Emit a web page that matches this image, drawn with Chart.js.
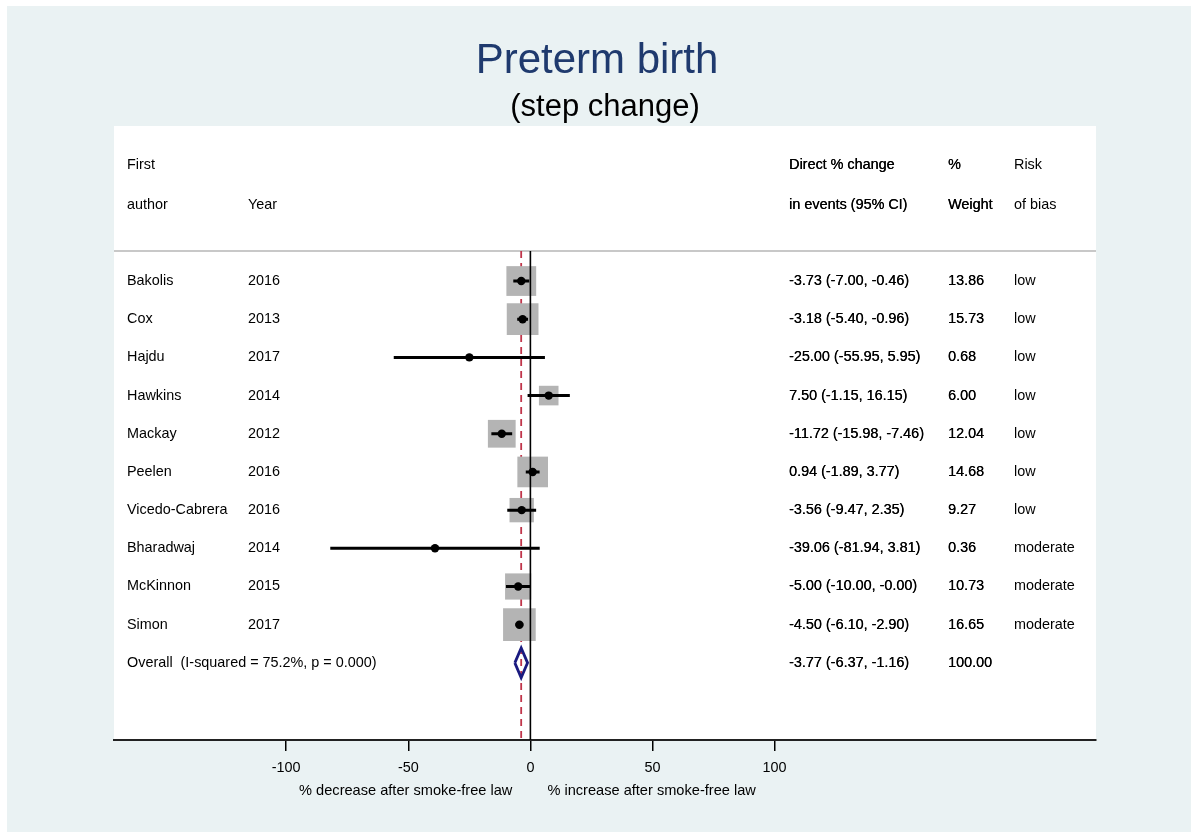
<!DOCTYPE html>
<html>
<head>
<meta charset="utf-8">
<title>Preterm birth (step change)</title>
<script src="https://cdn.jsdelivr.net/npm/chart.js@4.4.1/dist/chart.umd.min.js"></script>
<style>
  html, body { margin: 0; padding: 0; background: #ffffff; }
  #wrap { width: 1191px; height: 832px; position: relative; }
  canvas { display: block; }
</style>
</head>
<body>
<div id="wrap"><canvas id="forest" width="1191" height="832"></canvas></div>
<script>
// Studies in the meta-analysis of preterm birth after smoke-free legislation
const authors = ['Bakolis', 'Cox', 'Hajdu', 'Hawkins', 'Mackay', 'Peelen', 'Vicedo-Cabrera', 'Bharadwaj', 'McKinnon', 'Simon'];
const years = [2016, 2013, 2017, 2014, 2012, 2016, 2016, 2014, 2015, 2017];
// Direct % change in events with 95% confidence limits
const estimates = [-3.73, -3.18, -25.00, 7.50, -11.72, 0.94, -3.56, -39.06, -5.00, -4.50];
const lowerCI = [-7.00, -5.40, -55.95, -1.15, -15.98, -1.89, -9.47, -81.94, -10.00, -6.10];
const upperCI = [-0.46, -0.96, 5.95, 16.15, -7.46, 3.77, 2.35, 3.81, -0.00, -2.90];
const weights = [13.86, 15.73, 0.68, 6.00, 12.04, 14.68, 9.27, 0.36, 10.73, 16.65];
const riskOfBias = ['low', 'low', 'low', 'low', 'low', 'low', 'low', 'moderate', 'moderate', 'moderate'];
// Pooled random-effects estimate
const overallLabel = 'Overall  (I-squared = 75.2%, p = 0.000)';
const overallEstimate = [-3.77];
const overallCI = [-6.37, -1.16];
const overallWeight = [100.00];
// Axis
const xTicks = [-100, -50, 0, 50, 100];
const xTitleLeft = '% decrease after smoke-free law';
const xTitleRight = '% increase after smoke-free law';
const headerTop = ['First', '', 'Direct % change', '%', 'Risk'];
const headerBottom = ['author', 'Year', 'in events (95% CI)', 'Weight', 'of bias'];

const FONT = '"Liberation Sans", Arial, Helvetica, sans-serif';
const overallRow = authors.length;
const headerRowTop = -3.04, headerRowBottom = -1.99, separatorRow = -0.785;
const yMin = -4.06, yMax = 12.02;
const diamondHalf = 0.39;
// columns 2 and 3 (effect size, weight) are drawn a little heavier
const heavyCols = [false, false, true, true, false];

function fmt(v) {
  return (Object.is(v, -0) ? '-' : '') + v.toFixed(2);
}

const ciLine = [];
estimates.forEach((e, i) => {
  ciLine.push({ x: lowerCI[i], y: i }, { x: upperCI[i], y: i }, { x: null, y: null });
});

const oe = overallEstimate[0];
const diamond = [
  { x: overallCI[0], y: overallRow },
  { x: oe, y: overallRow - diamondHalf },
  { x: overallCI[1], y: overallRow },
  { x: oe, y: overallRow + diamondHalf },
  { x: overallCI[0], y: overallRow }
];

const tablePlugin = {
  id: 'forestTable',
  beforeDraw(chart) {
    const { ctx, chartArea: a } = chart;
    ctx.save();
    ctx.fillStyle = '#ffffff';
    ctx.fillRect(0, 0, chart.width, chart.height);
    ctx.fillStyle = '#EAF2F3';
    ctx.fillRect(7, 6, chart.width - 7, chart.height - 6);
    ctx.fillStyle = '#ffffff';
    ctx.fillRect(a.left, a.top, a.right - a.left, a.bottom - a.top);
    const ys = chart.scales.y;
    const sy = Math.round(ys.getPixelForValue(separatorRow));
    ctx.strokeStyle = '#C8C8C8';
    ctx.lineWidth = 2;
    ctx.beginPath();
    ctx.moveTo(a.left, sy);
    ctx.lineTo(a.right, sy);
    ctx.stroke();
    ctx.restore();
  },
  afterDraw(chart) {
    const { ctx, chartArea: a } = chart;
    const ys = chart.scales.y, xs = chart.scales.x;
    const cols = [a.left + 13, a.left + 134, a.left + 675, a.left + 834, a.left + 900];
    const put = (t, c, y) => {
      ctx.fillText(t, cols[c], y);
      if (heavyCols[c]) ctx.fillText(t, cols[c] + 0.25, y);
    };
    ctx.save();
    ctx.textBaseline = 'middle';
    ctx.textAlign = 'left';
    ctx.fillStyle = '#000000';
    ctx.font = '14.4px ' + FONT;
    headerTop.forEach((t, c) => { if (t) put(t, c, ys.getPixelForValue(headerRowTop)); });
    headerBottom.forEach((t, c) => { if (t) put(t, c, ys.getPixelForValue(headerRowBottom)); });
    authors.forEach((name, i) => {
      const y = ys.getPixelForValue(i);
      put(name, 0, y);
      put(String(years[i]), 1, y);
      put(fmt(estimates[i]) + ' (' + fmt(lowerCI[i]) + ', ' + fmt(upperCI[i]) + ')', 2, y);
      put(fmt(weights[i]), 3, y);
      put(riskOfBias[i], 4, y);
    });
    const yo = ys.getPixelForValue(overallRow);
    put(overallLabel, 0, yo);
    put(fmt(oe) + ' (' + fmt(overallCI[0]) + ', ' + fmt(overallCI[1]) + ')', 2, yo);
    put(fmt(overallWeight[0]), 3, yo);

    // axis titles on either side of zero
    const x0 = xs.getPixelForValue(0);
    ctx.font = '14.6px ' + FONT;
    ctx.textAlign = 'right';
    ctx.fillText(xTitleLeft, x0 - 18, 791);
    ctx.textAlign = 'left';
    ctx.fillText(xTitleRight, x0 + 17, 791);

    // title block
    ctx.textAlign = 'center';
    ctx.fillStyle = '#1F3A6E';
    ctx.font = '42px ' + FONT;
    ctx.fillText('Preterm birth', 597, 61);
    ctx.fillStyle = '#000000';
    ctx.font = '31px ' + FONT;
    ctx.fillText('(step change)', 605, 107);
    ctx.restore();
  }
};

new Chart(document.getElementById('forest'), {
  type: 'scatter',
  data: {
    datasets: [
      {
        label: 'Pooled estimate',
        data: diamond,
        showLine: true,
        borderColor: '#1A1A80',
        borderWidth: 2.8,
        pointRadius: 0,
        fill: false,
        tension: 0,
        order: 0
      },
      {
        label: 'Point estimate',
        data: estimates.map((e, i) => ({ x: e, y: i })),
        pointStyle: 'circle',
        pointRadius: 4.2,
        backgroundColor: '#000000',
        borderColor: '#000000',
        borderWidth: 0,
        order: 1
      },
      {
        label: '95% CI',
        data: ciLine,
        showLine: true,
        spanGaps: false,
        borderColor: '#000000',
        borderWidth: 3,
        pointRadius: 0,
        order: 2
      },
      {
        label: 'No effect',
        data: [{ x: 0, y: separatorRow }, { x: 0, y: yMax }],
        showLine: true,
        borderColor: '#000000',
        borderWidth: 1.6,
        pointRadius: 0,
        order: 3
      },
      {
        label: 'Study weight',
        data: estimates.map((e, i) => ({ x: e, y: i })),
        pointStyle: 'rect',
        pointRadius: ctx => 8 * Math.sqrt(weights[ctx.dataIndex]) / Math.SQRT2,
        backgroundColor: '#B4B4B4',
        borderColor: '#B4B4B4',
        borderWidth: 0,
        order: 4
      },
      {
        label: 'Overall effect',
        data: [{ x: oe, y: separatorRow }, { x: oe, y: yMax }],
        showLine: true,
        borderColor: '#C0354A',
        borderWidth: 1.8,
        borderDash: [7, 5],
        pointRadius: 0,
        order: 5
      }
    ]
  },
  options: {
    responsive: false,
    animation: false,
    events: [],
    layout: { padding: { left: 114, right: 95, top: 126, bottom: 0 } },
    plugins: {
      legend: { display: false },
      tooltip: { enabled: false },
      title: { display: false }
    },
    scales: {
      x: {
        type: 'linear',
        min: -170.5,
        max: 231.6,
        afterBuildTicks: axis => { axis.ticks = xTicks.map(v => ({ value: v })); },
        afterFit: axis => { axis.height = 92; },
        border: { display: true, color: '#222222', width: 2 },
        grid: { drawOnChartArea: false, drawTicks: true, tickLength: 11, color: '#000000', lineWidth: 1.5 },
        ticks: {
          color: '#000000',
          font: { family: FONT, size: 14.4 },
          padding: 8,
          maxRotation: 0,
          autoSkip: false
        }
      },
      y: {
        type: 'linear',
        display: false,
        reverse: true,
        min: yMin,
        max: yMax
      }
    }
  },
  plugins: [tablePlugin]
});
</script>
</body>
</html>
